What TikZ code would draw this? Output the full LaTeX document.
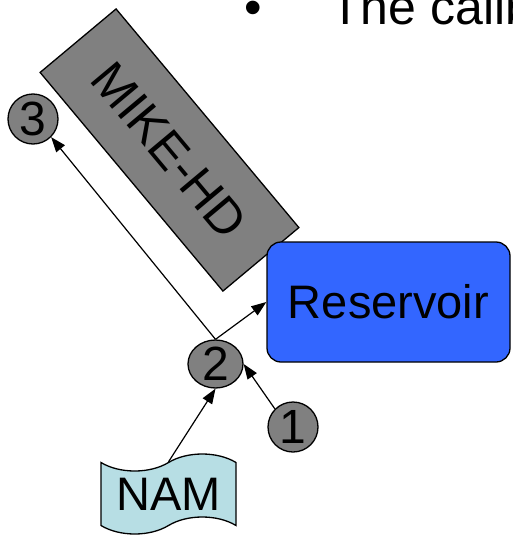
\documentclass[tikz,border=0pt]{standalone}
\usepackage{fontspec}
\setmainfont{Liberation Sans}
\usetikzlibrary{arrows.meta,shapes.geometric,shapes.symbols}
\definecolor{mikegray}{RGB}{128,128,128}
\definecolor{resblue}{RGB}{51,102,255}
\definecolor{namcyan}{RGB}{183,222,228}

\begin{document}
\begin{tikzpicture}[x=1pt,y=-1pt]
      \tikzstyle{bigtext}=[font=\fontsize{47}{50}\selectfont]
      \tikzstyle{titletext}=[anchor=base west, inner sep=0pt, font=\fontsize{50}{54}\selectfont]
      \tikzstyle{model}=[draw=black, line width=1.3pt, fill=mikegray, bigtext, inner sep=0pt]
      \tikzstyle{point}=[model, circle, minimum size=50pt, font=\fontsize{48}{50}\selectfont]
      \tikzstyle{flow}=[line width=1.2pt, -{Triangle[length=15pt,width=11pt]}]

      \useasboundingbox (0,0) rectangle (512,541);
      \clip (0,0) rectangle (512,541);

      \node [titletext] (bullet) at (244,24) {\textbullet};
      \node [titletext] (title) at (330,24) {The calib};

      \node [model, rotate=-50.1, minimum width=285pt, minimum height=99pt, font=\fontsize{50}{54}\selectfont] (mike) at (169.5,150) {MIKE-HD};
      \node [model, fill=resblue, rounded corners=14pt, minimum width=243pt, minimum height=120pt] (res) at (388.5,302) {Reservoir};

      \node [point] (c3) at (33,119) {3};
      \node [point, ellipse, minimum width=55pt, minimum height=48pt] (c2) at (215.5,364) {2};
      \node [point] (c1) at (293,427) {1};

      \node [model, tape, fill=namcyan, minimum width=135pt, minimum height=80pt, tape bend height=17pt] (nam) at (168.5,494) {NAM};

      \draw [flow] (nam.north) -- (c2.south);
      \draw [flow] (c1.north west) -- (c2.east);
      \draw [flow] (c2.north) -- (res.west);
      \draw [flow] (c2.north) -- (c3.south east);

\end{tikzpicture}
\end{document}
